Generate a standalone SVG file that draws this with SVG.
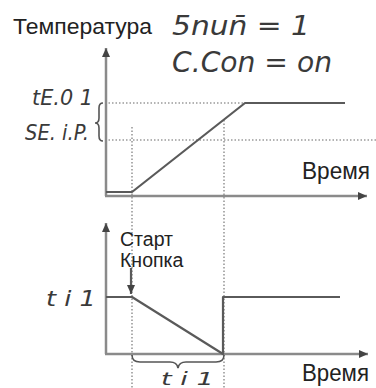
<svg xmlns="http://www.w3.org/2000/svg" width="376" height="388" viewBox="0 0 376 388">
<style>
.bg{fill:#fff}
.axis{stroke:#8a8a8a;stroke-width:2.5;fill:none}
.sig{stroke:#5a5a5a;stroke-width:2.2;fill:none;stroke-linejoin:round}
.dot{stroke:#9a9a9a;stroke-width:1.6;stroke-dasharray:1.5 2;fill:none}
.brace{stroke:#555;stroke-width:1.6;fill:none}
.lbl{font-family:"Liberation Sans",Arial,sans-serif;fill:#222}
.seg{font-family:"DejaVu Sans","Liberation Sans",sans-serif;font-weight:200;font-style:italic;fill:#3a3a3a}
</style>
<defs>
<marker id="ah" markerWidth="10" markerHeight="10" refX="9" refY="5" orient="auto" markerUnits="userSpaceOnUse">
<path d="M0,1 L9,5 L0,9 Z" fill="#444"/>
</marker>
</defs>
<rect class="bg" width="376" height="388"/>
<g id="connectors">
<line class="dot" x1="105" y1="103" x2="245" y2="103"/>
<line class="dot" x1="105" y1="140" x2="376" y2="140"/>
<line class="dot" x1="132" y1="127" x2="132" y2="388"/>
<line class="dot" x1="224" y1="120" x2="224" y2="388"/>
<line class="axis" x1="106" y1="196" x2="106" y2="48" marker-end="url(#ah)"/>
<line class="axis" x1="105" y1="196" x2="367" y2="196" marker-end="url(#ah)"/>
<polyline class="sig" points="106,192 132,192 245,103 345,103"/>
<path class="brace" d="M103,103 Q99,103 99,108 L99,118 Q99,123 95,123 Q99,123 99,128 L99,136 Q99,141 103,141"/>
<line class="axis" x1="106" y1="354" x2="106" y2="223" marker-end="url(#ah)"/>
<line class="axis" x1="105" y1="354" x2="368" y2="354" marker-end="url(#ah)"/>
<polyline class="sig" points="106,297 132,297 223,354 223,297 340,297"/>
<line class="sig" x1="131" y1="268" x2="131" y2="294" marker-end="url(#ah)"/>
<path class="brace" d="M132,355 Q132,362 140,362 L170,362 Q177,362 178,368 Q179,362 186,362 L216,362 Q224,362 224,355"/>
</g>
<g id="title">
<text class="lbl" x="13" y="34" font-size="22" textLength="139" lengthAdjust="spacingAndGlyphs">Температура</text>
</g>
<g id="params">
<text class="seg" x="172" y="35" font-size="27" textLength="138" lengthAdjust="spacingAndGlyphs">5nun̄ = 1</text>
<text class="seg" x="172" y="72" font-size="29" textLength="160" lengthAdjust="spacingAndGlyphs">C.Con = on</text>
</g>
<g id="labels">
<text class="seg" x="32" y="105" font-size="22" textLength="61" lengthAdjust="spacingAndGlyphs">tE.0 1</text>
<text class="seg" x="25" y="140" font-size="22" textLength="64" lengthAdjust="spacingAndGlyphs">SE. i.P.</text>
<text class="seg" x="46" y="306" font-size="22" textLength="50" lengthAdjust="spacingAndGlyphs">t i 1</text>
<text class="seg" x="161" y="385" font-size="18" textLength="53" lengthAdjust="spacingAndGlyphs">t i 1</text>
</g>
<g id="time-labels">
<text class="lbl" x="302" y="179" font-size="23" textLength="68" lengthAdjust="spacingAndGlyphs">Время</text>
<text class="lbl" x="302" y="381" font-size="23" textLength="67" lengthAdjust="spacingAndGlyphs">Время</text>
</g>
<g id="start">
<text class="lbl" x="120" y="246" font-size="19.5">Старт</text>
<text class="lbl" x="120" y="267" font-size="19.5">Кнопка</text>
</g>
</svg>
